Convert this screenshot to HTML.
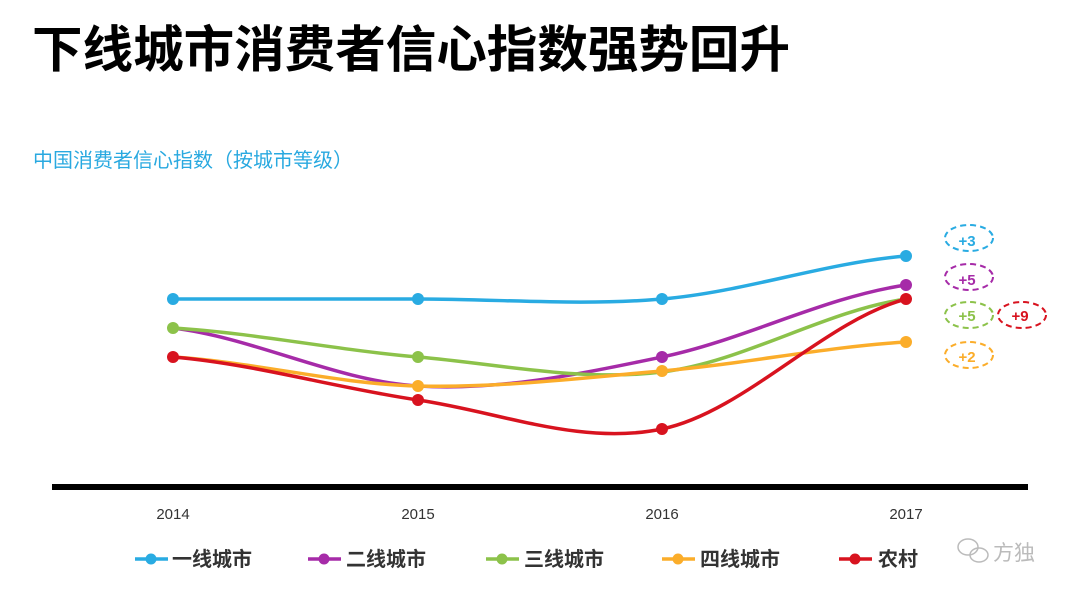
<!DOCTYPE html>
<html><head><meta charset="utf-8"><style>
body{margin:0;background:#fff;width:1080px;height:597px;overflow:hidden;font-family:"Liberation Sans","Noto Sans CJK SC",sans-serif}
</style></head><body>
<svg width="1080" height="597" xmlns="http://www.w3.org/2000/svg" font-family="Liberation Sans, Noto Sans CJK SC, sans-serif">
<text x="32" y="67" font-size="50" font-weight="bold" fill="#000" textLength="758" lengthAdjust="spacingAndGlyphs">下线城市消费者信心指数强势回升</text>
<text x="33" y="167" font-size="20" fill="#29a9e0">中国消费者信心指数（按城市等级）</text>
<g fill="none" stroke-width="3.5">
<path d="M173 299 C255 299 336 299 418 299 C500 299 580 306 662 299 C744 292 824 263 906 256" stroke="#29abe2"/>
<path d="M173 328 C255 338 336 381 418 386 C500 391 580 374 662 357 C744 340 824 297 906 285" stroke="#a62ba8"/>
<path d="M173 328 C255 333 336 350 418 357 C500 364 580 382 662 372 C744 362 824 311 906 299" stroke="#8cc24a"/>
<path d="M173 357 C255 362 336 384 418 386 C500 388 580 378 662 371 C744 364 824 347 906 342" stroke="#fbad2a"/>
<path d="M173 357 C255 364 336 388 418 400 C500 412 580 446 662 429 C744 412 824 321 906 299" stroke="#d8131f"/>
</g>
<g>
<circle cx="173" cy="299" r="6" fill="#29abe2"/><circle cx="418" cy="299" r="6" fill="#29abe2"/><circle cx="662" cy="299" r="6" fill="#29abe2"/><circle cx="906" cy="256" r="6" fill="#29abe2"/>
<circle cx="662" cy="357" r="6" fill="#a62ba8"/><circle cx="906" cy="285" r="6" fill="#a62ba8"/>
<circle cx="173" cy="328" r="6" fill="#8cc24a"/><circle cx="418" cy="357" r="6" fill="#8cc24a"/>
<circle cx="418" cy="386" r="6" fill="#fbad2a"/><circle cx="662" cy="371" r="6" fill="#fbad2a"/><circle cx="906" cy="342" r="6" fill="#fbad2a"/>
<circle cx="173" cy="357" r="6" fill="#d8131f"/><circle cx="418" cy="400" r="6" fill="#d8131f"/><circle cx="662" cy="429" r="6" fill="#d8131f"/><circle cx="906" cy="299" r="6" fill="#d8131f"/>
</g>
<rect x="52" y="484" width="976" height="6" fill="#000"/>
<g font-size="15" fill="#333" text-anchor="middle">
<text x="173" y="519">2014</text><text x="418" y="519">2015</text><text x="662" y="519">2016</text><text x="906" y="519">2017</text>
</g>
<g fill="none" stroke-width="2" stroke-dasharray="6 4">
<ellipse cx="969" cy="238" rx="24" ry="13" stroke="#29abe2"/>
<ellipse cx="969" cy="277" rx="24" ry="13" stroke="#a62ba8"/>
<ellipse cx="969" cy="315" rx="24" ry="13" stroke="#8cc24a"/>
<ellipse cx="1022" cy="315" rx="24" ry="13" stroke="#d8131f"/>
<ellipse cx="969" cy="355" rx="24" ry="13" stroke="#fbad2a"/>
</g>
<g font-size="15" font-weight="bold" text-anchor="middle">
<text x="967" y="246" fill="#29abe2">+3</text>
<text x="967" y="285" fill="#a62ba8">+5</text>
<text x="967" y="321" fill="#8cc24a">+5</text>
<text x="1020" y="321" fill="#d8131f">+9</text>
<text x="967" y="362" fill="#fbad2a">+2</text>
</g>
<g stroke-width="3.5">
<line x1="135" y1="559" x2="168" y2="559" stroke="#29abe2"/><circle cx="151" cy="559" r="5.5" fill="#29abe2"/>
<line x1="308" y1="559" x2="341" y2="559" stroke="#a62ba8"/><circle cx="324" cy="559" r="5.5" fill="#a62ba8"/>
<line x1="486" y1="559" x2="519" y2="559" stroke="#8cc24a"/><circle cx="502" cy="559" r="5.5" fill="#8cc24a"/>
<line x1="662" y1="559" x2="695" y2="559" stroke="#fbad2a"/><circle cx="678" cy="559" r="5.5" fill="#fbad2a"/>
<line x1="839" y1="559" x2="872" y2="559" stroke="#d8131f"/><circle cx="855" cy="559" r="5.5" fill="#d8131f"/>
</g>
<g font-size="20" font-weight="bold" fill="#333">
<text x="172" y="566">一线城市</text><text x="346" y="566">二线城市</text><text x="524" y="566">三线城市</text><text x="700" y="566">四线城市</text><text x="878" y="566">农村</text>
</g>
<g fill="none" stroke="#bbb" stroke-width="1.5"><ellipse cx="968" cy="547" rx="10" ry="8"/><ellipse cx="979" cy="555" rx="9" ry="7"/></g>
<text x="993" y="560" font-size="21" fill="#bbb">方独</text>
</svg>
</body></html>
